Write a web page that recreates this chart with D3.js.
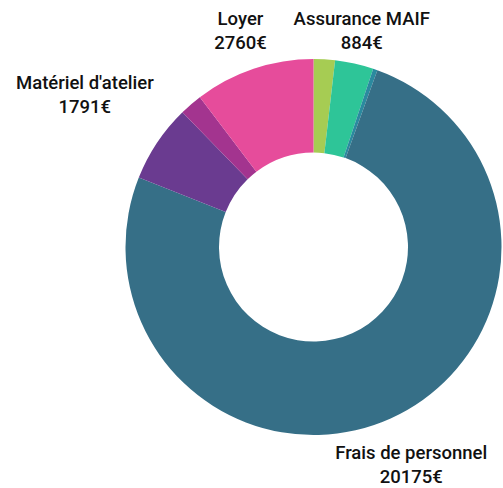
<!DOCTYPE html>
<html>
<head>
<meta charset="utf-8">
<script src="https://cdn.jsdelivr.net/npm/d3@7"></script>
<style>
  body { margin: 0; background: #fff; }
  .label { font-family: Roboto, "Noto Sans", sans-serif; font-weight: 500; font-size: 18.5px; fill: #111; }
</style>
</head>
<body>
<svg width="503" height="488"></svg>
<script>
  // slices, clockwise from 12 o'clock
  const names = ["Fournitures", "Assurance MAIF", "Frais bancaires", "Frais de personnel", "Matériel d'atelier", "Électricité", "Loyer"];
  const values = [490, 884, 100, 20175, 1791, 520, 2760];
  const colors = ["#a6cc53", "#2ec598", "#2b8a9f", "#366f87", "#6a3b90", "#a3348f", "#e64c9b"];

  const svg = d3.select("svg");
  const cx = 313.5, cy = 247;
  const outerR = 188, innerR = 94.5;
  const minLabelValue = 800;
  // how far out each label sits
  const labelR = { "Assurance MAIF": 222, "Frais de personnel": 238, "Matériel d'atelier": 275, "Loyer": 229 };

  const data = names.map((n, i) => ({ name: n, value: values[i], color: colors[i] }));

  const pie = d3.pie().sort(null).value(d => d.value);
  const arc = d3.arc().innerRadius(innerR).outerRadius(outerR);
  const arcs = pie(data);

  const g = svg.append("g").attr("transform", `translate(${cx},${cy})`);

  g.selectAll("path")
    .data(arcs)
    .enter()
    .append("path")
    .attr("d", arc)
    .attr("fill", d => d.data.color);

  const labels = g.selectAll("text")
    .data(arcs.filter(d => d.data.value >= minLabelValue))
    .enter()
    .append("text")
    .attr("class", "label")
    .attr("text-anchor", "middle")
    .attr("transform", d => {
      const r = labelR[d.data.name];
      const p = d3.arc().innerRadius(r).outerRadius(r).centroid(d);
      return `translate(${p[0]},${p[1]})`;
    });

  labels.append("tspan").attr("x", 0).attr("y", -5).text(d => d.data.name);
  labels.append("tspan").attr("x", 0).attr("y", 19).text(d => d.data.value + "€");
</script>
</body>
</html>
